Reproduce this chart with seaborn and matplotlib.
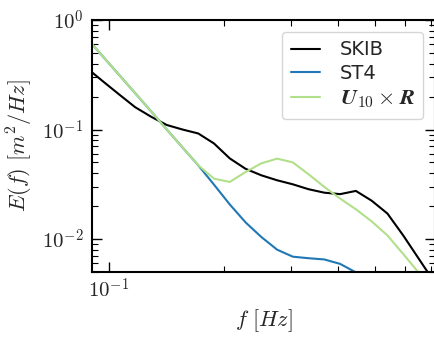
import math
import matplotlib
matplotlib.use("Agg")
import matplotlib.pyplot as plt
import matplotlib.ticker as mticker
import seaborn as sns
import pandas as pd

# Frequency bins [Hz]
freq = [0.0881, 0.0969, 0.1066, 0.1172, 0.1290, 0.1419, 0.1561, 0.1717,
        0.1888, 0.2077, 0.2285, 0.2513, 0.2765, 0.3041, 0.3345, 0.3680,
        0.4048, 0.4453, 0.4898, 0.5388, 0.5927, 0.6519, 0.7171]

# Energy spectra E(f) [m^2/Hz]
skib = [0.357, 0.272, 0.208, 0.160, 0.131, 0.110, 0.100, 0.092,
        0.0746, 0.0545, 0.0438, 0.0382, 0.0344, 0.0316, 0.0285, 0.0265,
        0.0257, 0.0275, 0.0224, 0.0171, 0.0108, 0.00658, 0.0040]
st4 = [0.665, 0.456, 0.313, 0.215, 0.147, 0.100, 0.0686, 0.0471,
       0.0314, 0.0207, 0.0142, 0.01045, 0.0080, 0.0069, 0.00668, 0.00651,
       0.00593, 0.00496, 0.0040, 0.0033, 0.0028, 0.0024, 0.0020]
u10r = [0.665, 0.456, 0.313, 0.215, 0.147, 0.100, 0.0686, 0.0471,
        0.0356, 0.0332, 0.0409, 0.0491, 0.0542, 0.0501, 0.0390, 0.0299,
        0.0234, 0.0187, 0.0145, 0.0108, 0.00731, 0.0049, 0.0032]

labels = ["SKIB", "ST4", r"$\mathbfit{U}_{10}\times\mathbfit{R}$"]
colors = ["black", "#1f78b4", "#b2df8a"]

df = pd.concat([
    pd.DataFrame({"f": freq, "E": vals, "run": lab})
    for vals, lab in zip([skib, st4, u10r], labels)
])

sns.set_style("ticks")
plt.rcParams["font.family"] = ["DejaVu Sans"]
plt.rcParams["mathtext.fontset"] = "cm"

fig = plt.figure(figsize=(4.34, 3.39), dpi=100)
ax = fig.add_axes([92 / 434, 67 / 339, 343 / 434, 252 / 339])

sns.lineplot(data=df, x="f", y="E", hue="run", palette=colors,
             hue_order=labels, linewidth=1.5, ax=ax, sort=False)

ax.set_xscale("log")
ax.set_yscale("log")
ax.set_xlim(0.0903, 0.7185)
ax.set_ylim(0.005, 1.0)

fmt = mticker.FuncFormatter(lambda v, p: r"$10^{%d}$" % round(math.log10(v)))
ax.xaxis.set_major_formatter(fmt)
ax.yaxis.set_major_formatter(fmt)
ax.xaxis.set_minor_formatter(mticker.NullFormatter())
ax.yaxis.set_minor_formatter(mticker.NullFormatter())

ax.tick_params(which="both", direction="in", top=True, right=True,
               labelsize=15, color="black")
ax.tick_params(which="major", length=7, width=1.0)
ax.tick_params(axis="x", which="major", pad=4)
ax.tick_params(axis="y", which="major", pad=6)
ax.tick_params(which="minor", length=4, width=0.8)
for sp in ax.spines.values():
    sp.set_linewidth(1.5)
    sp.set_color("black")

ax.set_xlabel(r"$f\ [Hz]$", fontsize=16, labelpad=4)
ax.set_ylabel(r"$E(f)\ [m^2/Hz]$", fontsize=16, labelpad=5)

leg = ax.legend(loc="upper right", fontsize=14, handlelength=1.5,
                handletextpad=1.0, labelspacing=0.25, borderpad=0.45,
                borderaxespad=0.6, frameon=True, fancybox=True,
                edgecolor="0.8")
leg.get_texts()[2].set_fontsize(16)
for line in leg.get_lines():
    line.set_linewidth(1.5)

fig.savefig("out.png", dpi=100)
